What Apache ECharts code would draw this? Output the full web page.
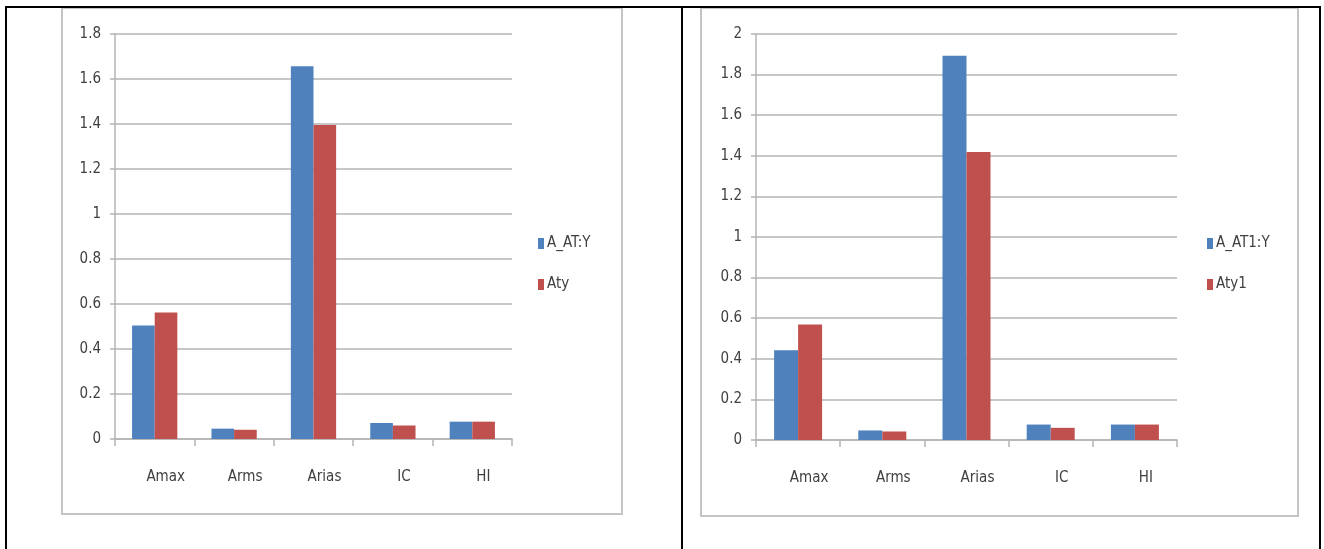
<!DOCTYPE html>
<html>
<head>
<meta charset="utf-8">
<script src="https://cdn.jsdelivr.net/npm/echarts@6/dist/echarts.min.js"></script>
<style>
html,body{margin:0;padding:0;background:#fff;}
#chart{width:1324px;height:549px;}
</style>
</head>
<body>
<div id="chart"></div>
<script>
const categories = ['Amax', 'Arms', 'Arias', 'IC', 'HI'];
const leftNames = ['A_AT:Y', 'Aty'];
const leftBlue = [0.505, 0.046, 1.657, 0.071, 0.077];
const leftRed = [0.562, 0.041, 1.396, 0.060, 0.077];
const rightNames = ['A_AT1:Y', 'Aty1'];
const rightBlue = [0.442, 0.047, 1.893, 0.076, 0.076];
const rightRed = [0.569, 0.042, 1.419, 0.060, 0.076];
const leftTicks = {min: 0, max: 1.8, interval: 0.2};
const rightTicks = {min: 0, max: 2, interval: 0.2};

const FONT = "'Liberation Sans Narrow', 'DejaVu Sans Condensed', 'Liberation Sans', sans-serif";
const TXT = '#404040';
const GRIDC = '#b4b4b4';
const BLUE = '#4F81BD';
const RED = '#C0504D';

function xAxis(gi) {
  return {
    type: 'category', gridIndex: gi, data: categories,
    axisLine: {lineStyle: {color: GRIDC, width: 1.5}},
    axisTick: {show: true, length: 7, lineStyle: {color: GRIDC, width: 1.5}},
    axisLabel: {color: TXT, fontFamily: FONT, fontSize: 15, margin: 31, padding: [0, 0, 0, 22]}
  };
}
function yAxis(gi, t) {
  return {
    type: 'value', gridIndex: gi, min: t.min, max: t.max, interval: t.interval,
    axisLine: {show: true, lineStyle: {color: GRIDC, width: 1.5}},
    axisTick: {show: true, length: 5, lineStyle: {color: GRIDC, width: 1.5}},
    splitLine: {lineStyle: {color: GRIDC, width: 1.5}},
    axisLabel: {color: TXT, fontFamily: FONT, fontSize: 15, margin: 14}
  };
}
function bar(name, data, color, gi) {
  return {
    name: name, type: 'bar', data: data, xAxisIndex: gi, yAxisIndex: gi,
    barGap: '0%', barCategoryGap: '43%',
    itemStyle: {color: color}, animation: false
  };
}
function legend(names, left) {
  return {
    data: names, orient: 'vertical', left: left, top: 231,
    icon: 'rect', itemWidth: 6, itemHeight: 11, itemGap: 26,
    textStyle: {color: TXT, fontFamily: FONT, fontSize: 15, padding: [0, 0, 0, -2]}
  };
}

const chart = echarts.init(document.getElementById('chart'), null, {renderer: 'canvas'});
chart.setOption({
  animation: false,
  backgroundColor: '#fff',
  grid: [
    {left: 115, top: 34, width: 397, height: 405},
    {left: 756, top: 34, width: 421, height: 406}
  ],
  xAxis: [xAxis(0), xAxis(1)],
  yAxis: [yAxis(0, leftTicks), yAxis(1, rightTicks)],
  legend: [legend(leftNames, 533), legend(rightNames, 1202)],
  series: [
    bar(leftNames[0], leftBlue, BLUE, 0),
    bar(leftNames[1], leftRed, RED, 0),
    bar(rightNames[0], rightBlue, BLUE, 1),
    bar(rightNames[1], rightRed, RED, 1)
  ],
  graphic: [
    {type: 'rect', shape: {x: 62, y: 8, width: 560, height: 506}, style: {fill: 'none', stroke: '#c4c4c4', lineWidth: 2}, z: 0},
    {type: 'rect', shape: {x: 701, y: 8, width: 597, height: 508}, style: {fill: 'none', stroke: '#c4c4c4', lineWidth: 2}, z: 0},
    {type: 'line', shape: {x1: 5, y1: 7, x2: 1321, y2: 7}, style: {stroke: '#000', lineWidth: 2}, z: 10},
    {type: 'line', shape: {x1: 6, y1: 6, x2: 6, y2: 549}, style: {stroke: '#000', lineWidth: 2}, z: 10},
    {type: 'line', shape: {x1: 682, y1: 6, x2: 682, y2: 549}, style: {stroke: '#000', lineWidth: 2}, z: 10},
    {type: 'line', shape: {x1: 1320, y1: 6, x2: 1320, y2: 549}, style: {stroke: '#000', lineWidth: 2}, z: 10}
  ]
});
</script>
</body>
</html>
